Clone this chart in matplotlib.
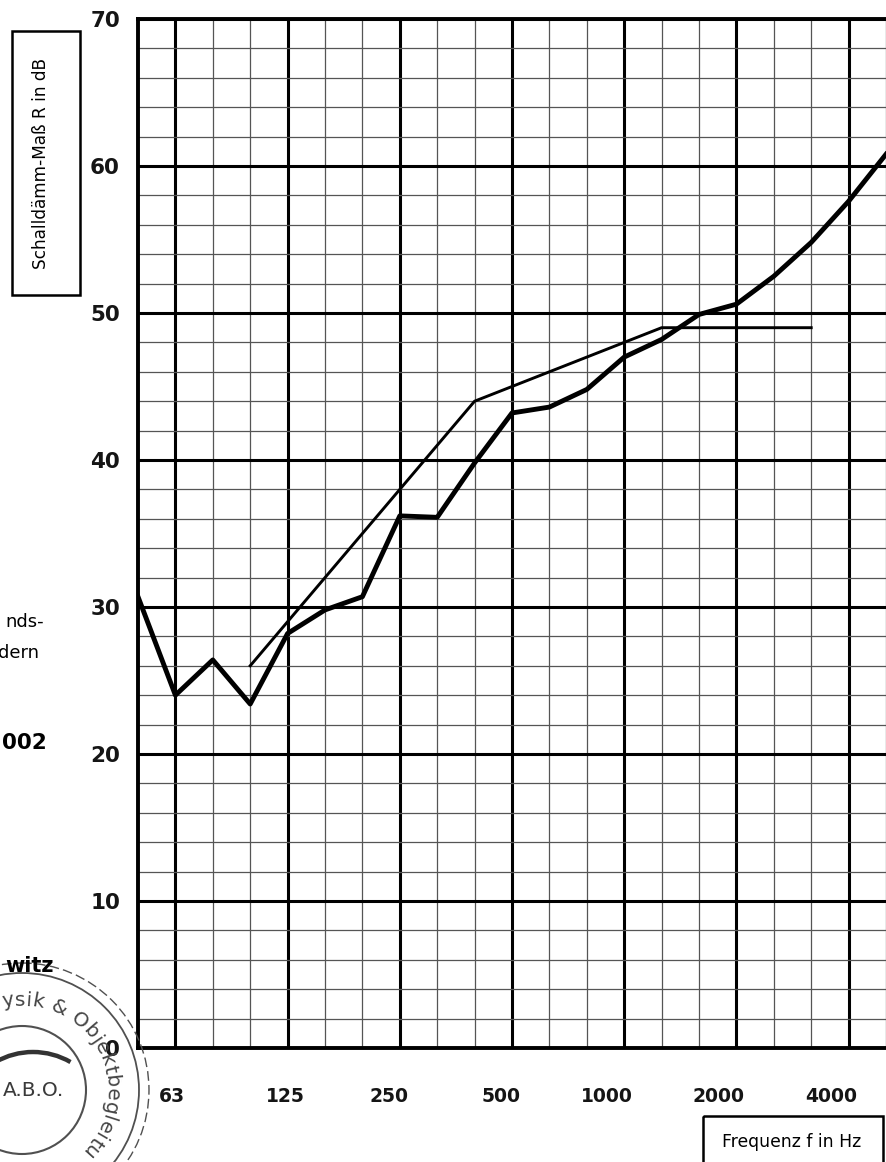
import numpy as np
import matplotlib
matplotlib.use("Agg")
import matplotlib.pyplot as plt
from matplotlib.patches import Rectangle, Circle, Arc
import matplotlib.transforms as mtransforms

# ---------------- data ----------------
bands = ["50", "63", "80", "100", "125", "160", "200", "250", "315", "400", "500",
         "630", "800", "1000", "1250", "1600", "2000", "2500", "3150", "4000", "5000"]
measured_R = [30.7, 24.0, 26.4, 23.4, 28.2, 29.8, 30.7, 36.2, 36.1, 39.8, 43.2,
              43.6, 44.8, 47.0, 48.2, 49.9, 50.6, 52.5, 54.8, 57.6, 60.8]
ref_bands = ["100", "125", "160", "200", "250", "315", "400", "500",
             "630", "800", "1000", "1250", "1600", "2000", "2500", "3150"]
ref_R = [26, 29, 32, 35, 38, 41, 44, 45, 46, 47, 48, 49, 49, 49, 49, 49]
octave_labels = ["63", "125", "250", "500", "1000", "2000", "4000"]
y_major = [0, 10, 20, 30, 40, 50, 60, 70]
y_minor_step = 2

ylabel = "Schalldämm-Maß R in dB"
xlabel = "Frequenz f in Hz"
stamp_text = "Bauphysik & Objektbegleitung"

plt.rcParams["font.family"] = ["DejaVu Sans"]

W, H = 886, 1162
fig = plt.figure(figsize=(W / 100, H / 100), dpi=100)
fig.patch.set_facecolor("white")

# axes placement in pixels
x0, x1 = 138, 886
ytop, ybot = 19, 1048
ax = fig.add_axes([x0 / W, (H - ybot) / H, (x1 - x0) / W, (ybot - ytop) / H])
ax.set_facecolor("white")

idx = {b: i for i, b in enumerate(bands)}
xm = [idx[b] for b in bands]
xr = [idx[b] for b in ref_bands]
step = 37.7
ax.set_xlim(0, (x1 - x0) / step)
ax.set_ylim(0, 70)

# grid
ax.set_yticks(y_major)
ax.set_yticks(np.arange(0, 71, y_minor_step), minor=True)
oct_idx = [idx[b] for b in octave_labels]
ax.set_xticks(oct_idx)
ax.set_xticks([i for i in range(len(bands)) if i not in oct_idx], minor=True)
ax.grid(which="major", color="black", linewidth=2.2)
ax.grid(which="minor", color="#555555", linewidth=0.9)
ax.set_axisbelow(True)
ax.tick_params(which="both", length=0)
ax.tick_params(axis="y", labelsize=15.5, pad=13)
for t in ax.get_yticklabels():
    t.set_fontweight("bold")
    t.set_color("#151515")
ax.set_xticklabels([])
for s in ["left", "top", "bottom"]:
    ax.spines[s].set_linewidth(2.8)
ax.spines["right"].set_visible(False)

# x tick labels (offset to the left of the octave lines as in the original)
offs = [-3, -2, -11, -11, -17, -18, -17]
for lab, off in zip(octave_labels, offs):
    tr = mtransforms.blended_transform_factory(ax.transData, ax.transAxes) + \
        mtransforms.ScaledTranslation(off / 100, 0, fig.dpi_scale_trans)
    ax.text(idx[lab], -49 / (ybot - ytop), lab, transform=tr, ha="center", va="center",
            fontsize=13.5, fontweight="bold", color="#151515", clip_on=False)

# curves
ax.plot(xm, measured_R, color="black", linewidth=3.5, clip_on=True, zorder=5)
ax.plot(xr, ref_R, color="black", linewidth=2.1, clip_on=True, zorder=5)

# ---------------- overlay in pixel coordinates ----------------
ov = fig.add_axes([0, 0, 1, 1], zorder=10)
ov.set_xlim(0, W)
ov.set_ylim(H, 0)
ov.axis("off")
ov.patch.set_alpha(0)

# y label box
ov.add_patch(Rectangle((12, 31), 68, 264, fill=False, edgecolor="black", linewidth=1.8))
ov.text(41, 163, ylabel, rotation=90, ha="center", va="center", fontsize=12.2)

# x label box
ov.add_patch(Rectangle((703, 1116), 180, 60, fill=False, edgecolor="black",
                       linewidth=1.8, clip_on=True))
ov.text(792, 1142, xlabel, ha="center", va="center", fontsize=12.4)

# cropped text fragments of the document
ov.text(44, 622, "nds-", ha="right", va="center", fontsize=13)
ov.text(39, 653, "dern", ha="right", va="center", fontsize=13)
ov.text(47, 743, "002", ha="right", va="center", fontsize=15.5, fontweight="bold")
ov.text(54, 966, "witz", ha="right", va="center", fontsize=15, fontweight="bold")

# stamp
sc = "#505050"
cx, cy = 22, 1090
ov.add_patch(Circle((cx, cy), 64, fill=False, edgecolor=sc, linewidth=1.5))
ov.add_patch(Circle((cx, cy), 117, fill=False, edgecolor=sc, linewidth=1.3))
ov.add_patch(Circle((cx, cy), 127, fill=False, edgecolor=sc, linewidth=1.0,
                    linestyle=(0, (7, 3))))
ov.add_patch(Arc((33, 1127), 150, 150, theta1=240, theta2=300, edgecolor="#333333",
                 linewidth=3.2))
ov.text(64, 1091, "A.B.O.", ha="right", va="center", fontsize=14.5, color="#3a3a3a")

widths = {"B": 686, "a": 613, "u": 634, "p": 635, "h": 634, "y": 592, "s": 521,
          "i": 278, "k": 579, " ": 318, "&": 780, "O": 787, "b": 635, "j": 278,
          "e": 615, "t": 392, "g": 635, "l": 278, "n": 634}
deg_per_unit = 0.0139
pos = 0.0
centers = []
for ch in stamp_text:
    w = widths.get(ch, 600)
    centers.append(pos + w / 2)
    pos += w
y_center = centers[stamp_text.index("y")]
r_txt = 90
for ch, c in zip(stamp_text, centers):
    if ch == " ":
        continue
    ang = 99.0 - deg_per_unit * (c - y_center)
    a = np.deg2rad(ang)
    px, py = cx + r_txt * np.cos(a), cy - r_txt * np.sin(a)
    if px < 6 or py > 1152:
        continue
    ov.text(px, py, ch, rotation=ang - 90, ha="center", va="center", fontsize=14.5,
            color="#454545", rotation_mode="anchor")

fig.savefig("out.png", dpi=100, facecolor="white")
